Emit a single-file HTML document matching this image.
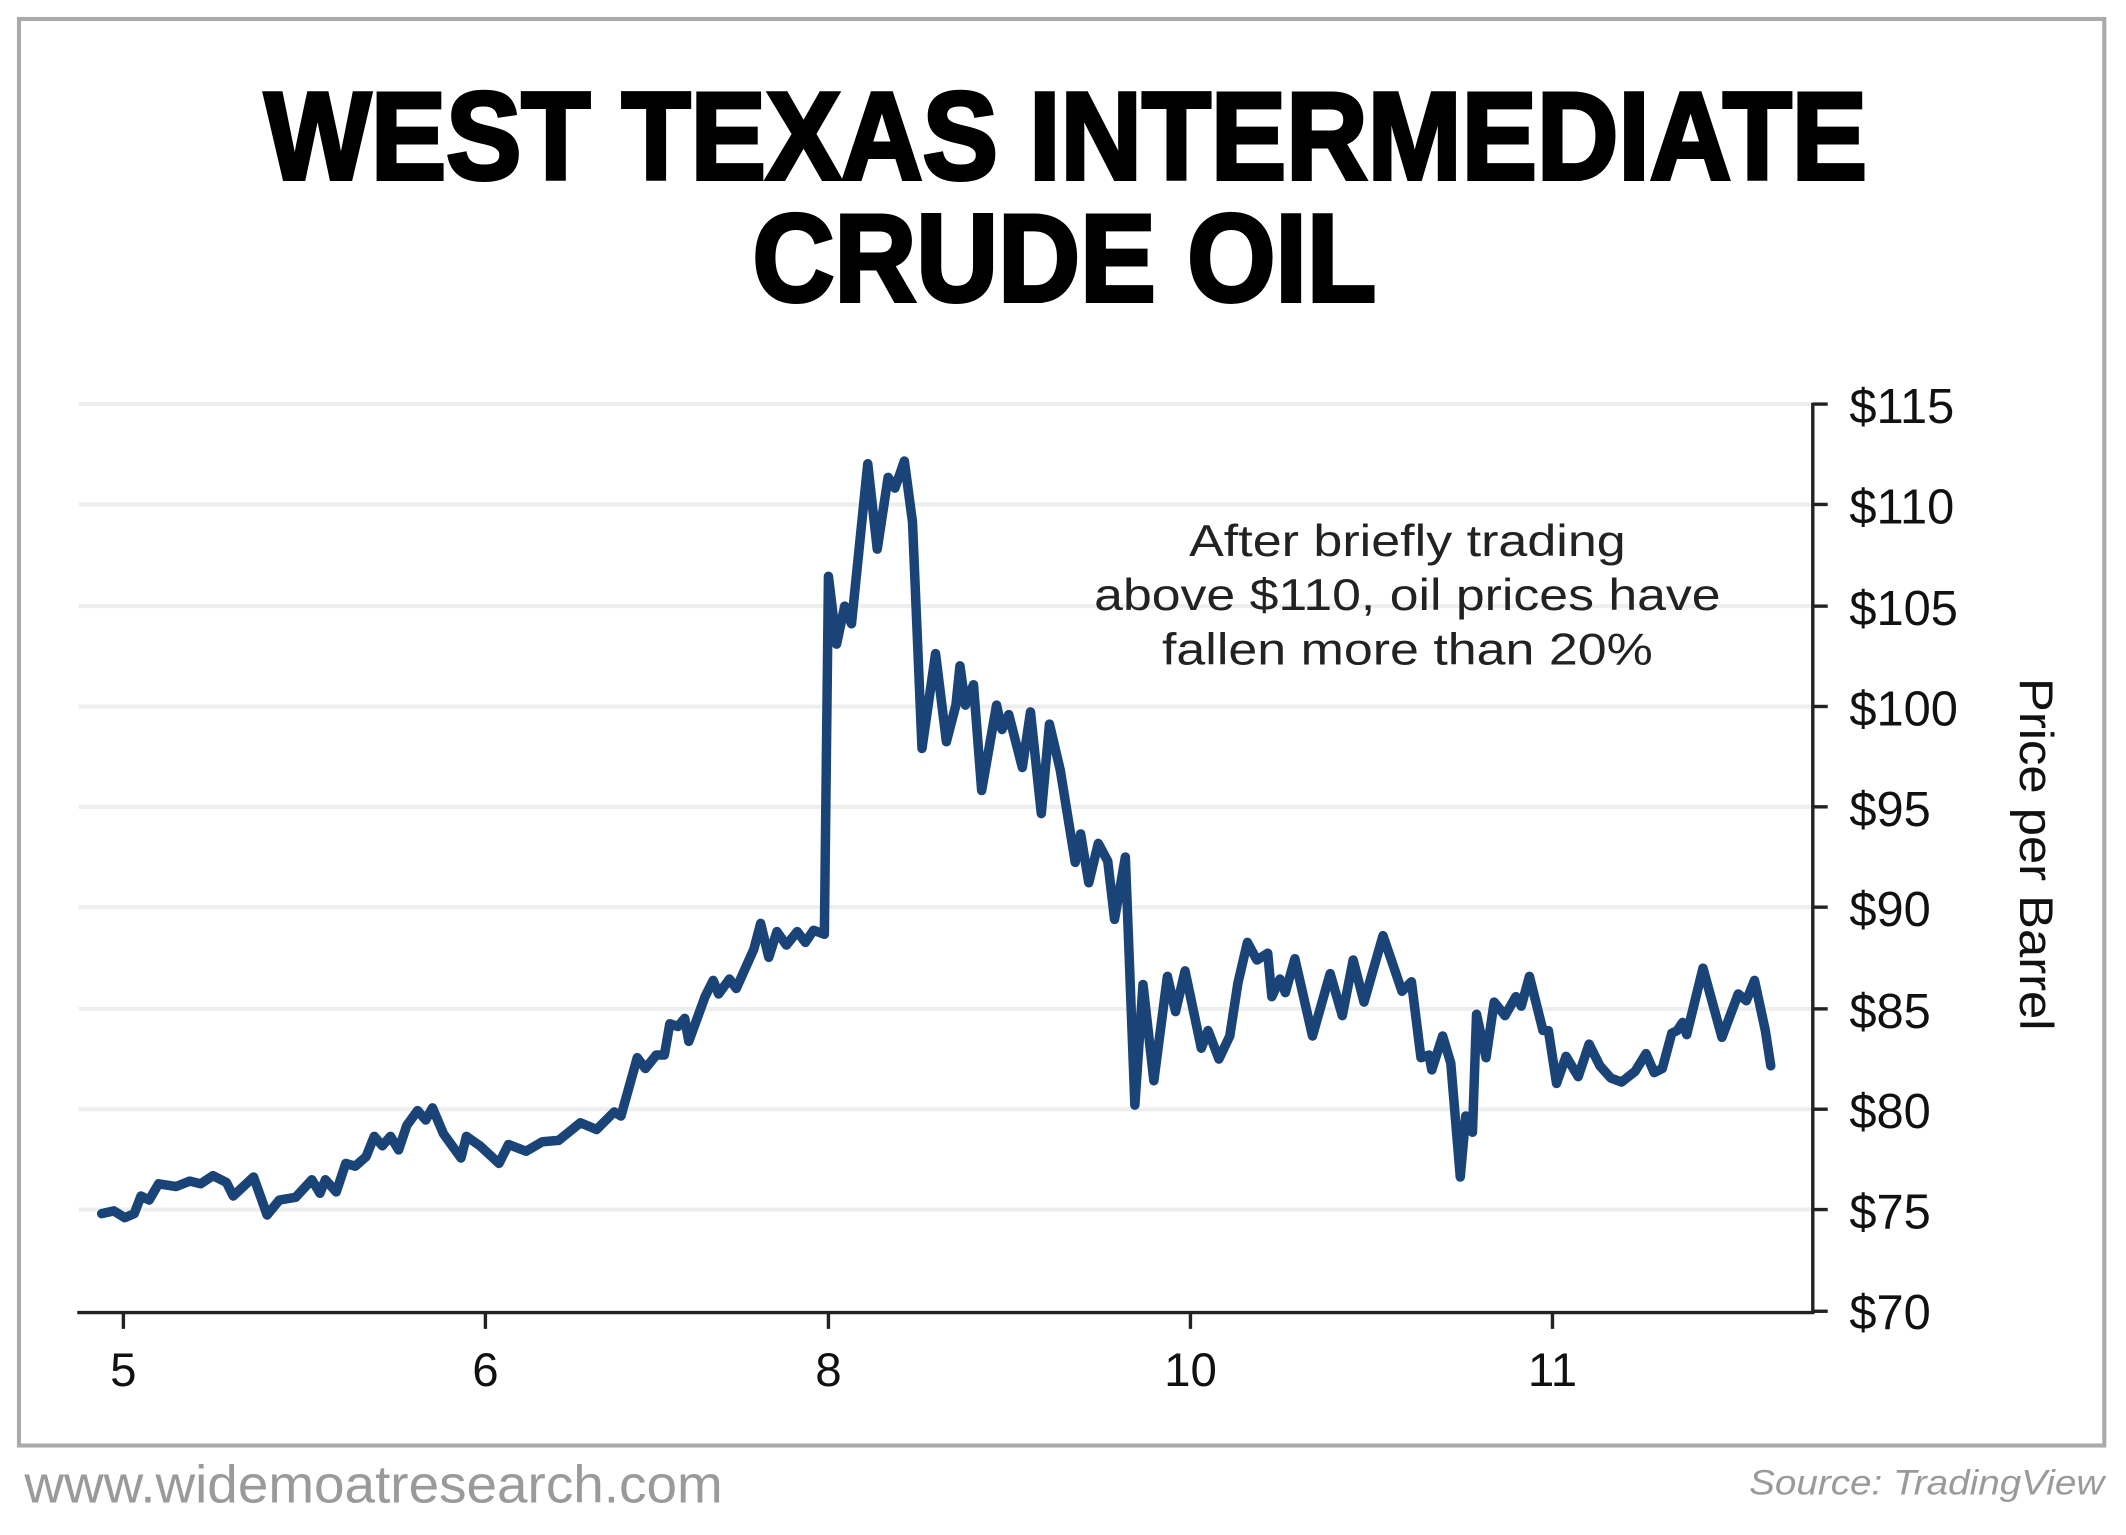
<!DOCTYPE html>
<html><head><meta charset="utf-8"><style>html,body{margin:0;padding:0;background:#fff;}svg{display:block;}</style></head>
<body>
<svg width="2126" height="1535" viewBox="0 0 1568 1132" preserveAspectRatio="none" xmlns="http://www.w3.org/2000/svg">
<rect x="0" y="0" width="1568" height="1132" fill="#fff"/>
<rect x="14" y="14" width="1538" height="1052" fill="#fff" stroke="#aaaaaa" stroke-width="3"/>
<g font-family="Liberation Sans, sans-serif" font-weight="bold" fill="#000" text-anchor="middle">
<text x="786" y="132" font-size="92" textLength="1182" lengthAdjust="spacingAndGlyphs" stroke="#000" stroke-width="3">WEST TEXAS INTERMEDIATE</text>
<text x="785" y="222" font-size="92" textLength="460" lengthAdjust="spacingAndGlyphs" stroke="#000" stroke-width="3">CRUDE OIL</text>
</g>
<g stroke="#eeeeee" stroke-width="3">
<line x1="58" y1="298" x2="1336" y2="298"/><line x1="58" y1="372" x2="1336" y2="372"/>
<line x1="58" y1="447" x2="1336" y2="447"/><line x1="58" y1="521" x2="1336" y2="521"/>
<line x1="58" y1="595" x2="1336" y2="595"/><line x1="58" y1="669" x2="1336" y2="669"/>
<line x1="58" y1="744" x2="1336" y2="744"/><line x1="58" y1="818" x2="1336" y2="818"/>
<line x1="58" y1="892" x2="1336" y2="892"/>
</g>
<g stroke="#222" stroke-width="2.5" fill="none">
<line x1="1337" y1="297" x2="1337" y2="969"/>
<line x1="57" y1="968" x2="1338" y2="968"/>
<line x1="1337" y1="298" x2="1348" y2="298"/><line x1="1337" y1="372" x2="1348" y2="372"/>
<line x1="1337" y1="447" x2="1348" y2="447"/><line x1="1337" y1="521" x2="1348" y2="521"/>
<line x1="1337" y1="595" x2="1348" y2="595"/><line x1="1337" y1="669" x2="1348" y2="669"/>
<line x1="1337" y1="744" x2="1348" y2="744"/><line x1="1337" y1="818" x2="1348" y2="818"/>
<line x1="1337" y1="892" x2="1348" y2="892"/><line x1="1337" y1="967" x2="1348" y2="967"/>
<line x1="91" y1="968" x2="91" y2="980"/><line x1="358" y1="968" x2="358" y2="980"/>
<line x1="611" y1="968" x2="611" y2="980"/><line x1="878" y1="968" x2="878" y2="980"/>
<line x1="1145" y1="968" x2="1145" y2="980"/>
</g>
<g font-family="Liberation Sans, sans-serif" font-size="36" fill="#111">
<text x="1364" y="312">$115</text><text x="1364" y="386">$110</text>
<text x="1364" y="461">$105</text><text x="1364" y="535">$100</text>
<text x="1364" y="609">$95</text><text x="1364" y="683">$90</text>
<text x="1364" y="758">$85</text><text x="1364" y="832">$80</text>
<text x="1364" y="906">$75</text><text x="1364" y="980">$70</text>
</g>
<g font-family="Liberation Sans, sans-serif" font-size="35" fill="#111" text-anchor="middle">
<text x="91" y="1022">5</text><text x="358" y="1022">6</text><text x="611" y="1022">8</text>
<text x="878" y="1022">10</text><text x="1145" y="1022">11</text>
</g>
<text transform="translate(1490,630) rotate(90)" font-family="Liberation Sans, sans-serif" font-size="35" fill="#111" text-anchor="middle" textLength="260" lengthAdjust="spacingAndGlyphs">Price per Barrel</text>
<g font-family="Liberation Sans, sans-serif" font-size="33" fill="#222" text-anchor="middle">
<text x="1038" y="410" textLength="322" lengthAdjust="spacingAndGlyphs">After briefly trading</text>
<text x="1038" y="450" textLength="462" lengthAdjust="spacingAndGlyphs">above $110, oil prices have</text>
<text x="1038" y="490" textLength="362" lengthAdjust="spacingAndGlyphs">fallen more than 20%</text>
</g>
<polyline fill="none" stroke="#1a4478" stroke-width="7" stroke-linejoin="round" stroke-linecap="round" points="75,895 84,893 92,898 99,895 104,882 110,885 117,873 130,875 140,871 148,873 157,867 167,872 172,882 187,868 197,896 206,885 218,883 230,870 236,880 240,870 248,879 255,858 262,860 270,853 276,838 282,845 288,838 294,848 300,830 308,819 314,826 319,817 327,836 340,854 344,838 354,845 368,858 375,844 388,849 400,842 412,841 428,828 440,833 453,820 458,823 470,780 476,788 484,778 490,778 494,755 500,757 505,751 508,768 520,735 526,723 530,733 538,722 543,729 556,700 561,681 567,706 573,687 580,697 588,687 594,695 600,686 608,689 611,425 617,475 623,447 628,460 640,342 647,405 655,352 660,360 667,340 673,385 680,552 690,482 698,547 705,520 708,491 712,520 718,505 724,583 735,520 739,538 744,527 754,566 760,525 768,600 774,534 782,568 793,636 797,615 803,651 810,622 817,635 822,678 830,632 837,815 843,726 851,797 861,720 867,746 874,716 886,773 891,760 899,781 907,764 913,725 920,695 927,708 935,703 938,735 944,722 948,732 955,707 968,764 981,718 990,749 998,708 1006,739 1020,690 1034,731 1041,724 1048,780 1054,778 1056,789 1064,764 1070,784 1077,868 1081,823 1086,835 1089,748 1096,780 1102,739 1110,749 1118,735 1122,742 1128,720 1138,760 1142,760 1148,799 1155,779 1164,794 1172,770 1180,786 1188,795 1196,798 1206,790 1214,777 1220,791 1226,788 1233,762 1237,760 1241,754 1244,763 1256,714 1270,765 1282,733 1288,738 1294,723 1302,760 1306,786"/>
<text x="18" y="1108" font-family="Liberation Sans, sans-serif" font-size="39" fill="#9a9a9a" textLength="515" lengthAdjust="spacingAndGlyphs">www.widemoatresearch.com</text>
<text x="1552" y="1102" font-family="Liberation Sans, sans-serif" font-size="26" font-style="italic" fill="#9a9a9a" text-anchor="end" textLength="262" lengthAdjust="spacingAndGlyphs">Source: TradingView</text>
</svg>
</body></html>
